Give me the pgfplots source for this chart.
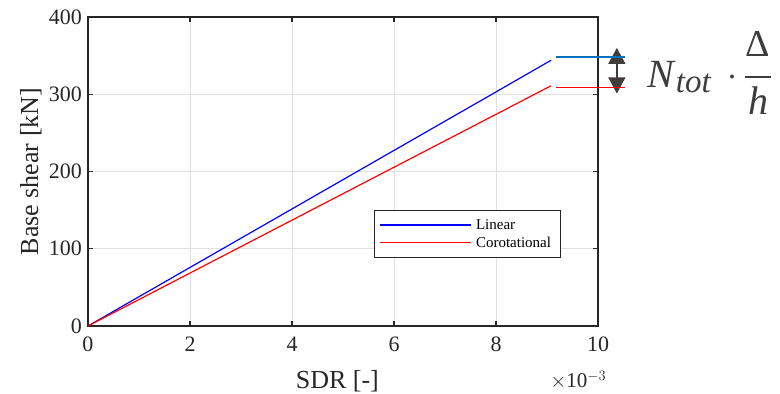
\documentclass[border=0pt]{standalone}
\usepackage{fontspec}
\setmainfont{Liberation Serif}
\usepackage{pgfplots}
\pgfplotsset{compat=1.18}
\usetikzlibrary{arrows.meta}
\definecolor{axc}{RGB}{38,38,38}
\definecolor{annblue}{RGB}{0,114,189}
\definecolor{annred}{RGB}{255,0,0}
\definecolor{linblue}{RGB}{0,0,255}
\definecolor{arrc}{RGB}{64,60,60}
\newcommand{\formula}{%
  {\fontsize{40}{44}\selectfont\itshape N}%
  \hspace{2pt}\raisebox{-5pt}{\fontsize{33}{36}\selectfont\itshape tot}%
  \hspace{19pt}\raisebox{8.5pt}{$\bullet$}\hspace{10.5pt}%
  \makebox[0pt][l]{\rule[9.8pt]{26pt}{2.6pt}}%
  \makebox[0pt][l]{\makebox[26pt][c]{\raisebox{31pt}{\fontsize{38}{40}\selectfont Δ}}}%
  \makebox[26pt][c]{\raisebox{-27pt}{\fontsize{40}{42}\selectfont\itshape h}}}
\begin{document}
\begin{tikzpicture}[x=1pt,y=1pt]
\useasboundingbox (0,0) rectangle (780,394);
\begin{axis}[
  at={(88pt,68pt)}, anchor=south west,
  scale only axis, width=510pt, height=309pt,
  xmin=0, xmax=10, ymin=0, ymax=400,
  xtick={0,2,4,6,8,10}, ytick={0,100,200,300,400},
  xticklabels={0,2,4,6,8,10}, yticklabels={0,100,200,300,400},
  clip=false,
  axis line style={color=axc, line width=1.5pt},
  tick style={color=axc, line width=1.2pt},
  tick align=inside, major tick length=5pt,
  grid=major, major grid style={color=black!12, line width=0.8pt},
  ticklabel style={font=\fontsize{22}{24}\selectfont, text=axc},
  yticklabel style={inner sep=0pt, anchor=east, xshift=-6pt},
  xticklabel style={inner sep=0pt, anchor=north, yshift=-11pt},
  xlabel={SDR [-]}, ylabel={Base shear [kN]},
  label style={font=\fontsize{26}{28}\selectfont, text=axc},
  xlabel style={at={(axis description cs:0.489,-0.178)}, anchor=center},
  ylabel style={at={(axis description cs:-0.112,0.5)}, anchor=center},
  legend style={at={(axis description cs:0.561,0.375)}, anchor=north west,
    draw=axc, fill=white,
    font=\fontsize{15}{17}\selectfont, inner xsep=5pt, inner ysep=7pt,
    row sep=2pt,
    nodes={inner xsep=4.5pt}},
  legend cell align=left,
  legend image code/.code={\draw[#1] (0pt,0pt) -- (91pt,0pt);},
]
\addplot[draw=linblue, line width=1.2pt] coordinates {(0,0) (2,75.8) (4,151.5) (6,227.3) (8,303) (9.08,344)};
\addlegendentry{Linear}
\addplot[draw=annred, line width=1.2pt] coordinates {(0,0) (2,68.5) (4,137) (6,205.5) (8,274) (9.08,311)};
\addlegendentry{Corotational}
\draw[arrc, line width=1.3pt, {Triangle[width=17pt,length=16pt]}-{Triangle[width=17pt,length=16pt]}] (axis cs:10.37,360) -- (axis cs:10.37,301);
\draw[draw=annblue, line width=1.6pt] (axis cs:9.18,348.2) -- (axis cs:10.53,348.2);
\draw[draw=annred, line width=1.6pt] (axis cs:9.18,308.7) -- (axis cs:10.53,308.7);
\node[anchor=base west, inner sep=0pt, text=arrc] at (axis cs:10.96,308.1) {\formula};
\node[anchor=base west, inner sep=0pt, text=axc, font=\fontsize{21}{24}\selectfont] at (axis cs:9.06,-80) {$\times$10$^{-3}$};
\end{axis}
\end{tikzpicture}
\end{document}
